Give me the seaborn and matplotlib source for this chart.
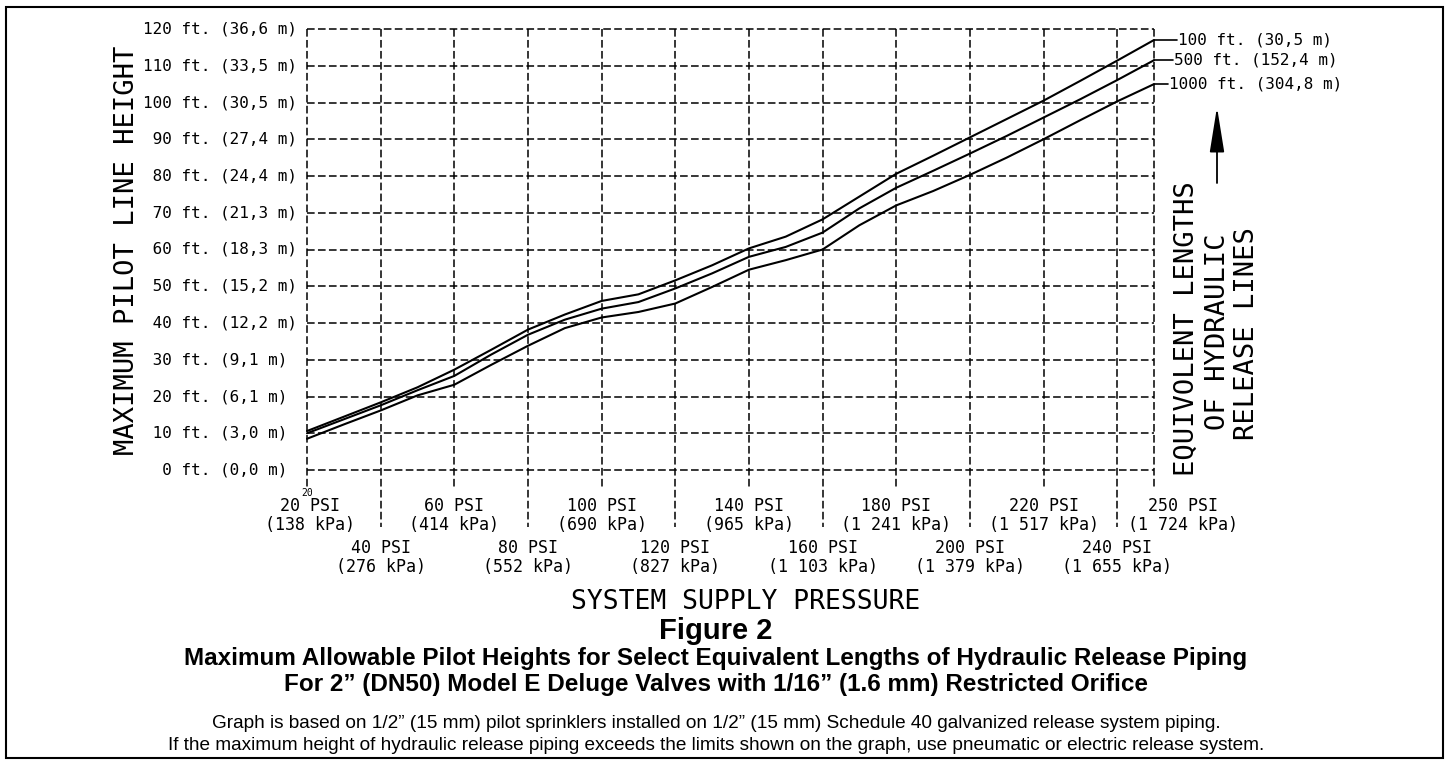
import matplotlib
matplotlib.use("Agg")
import matplotlib.pyplot as plt
import matplotlib.transforms as mtransforms
from matplotlib.patches import Rectangle
import pandas as pd
import seaborn as sns

# === Data ===
psi = [20, 30, 40, 50, 60, 70, 80, 90, 100, 110, 120, 130, 140, 150,
       160, 170, 180, 190, 200, 210, 220, 230, 240, 250]
h_100 = [10.6, 14.5, 18.4, 22.5, 27.3, 32.7, 38.2, 42.3, 46.0, 47.8, 51.6, 55.7,
         60.3, 63.5, 68.2, 74.4, 80.6, 85.5, 90.5, 95.5, 100.5, 105.9, 111.4, 117.0]
h_500 = [10.0, 13.8, 17.6, 21.7, 25.6, 31.4, 36.8, 40.9, 43.9, 45.7, 49.4, 53.5,
         58.0, 60.7, 64.6, 71.2, 76.8, 81.4, 86.1, 90.9, 95.9, 100.9, 106.1, 111.5]
h_1000 = [8.5, 12.4, 16.2, 20.3, 23.2, 28.6, 33.8, 38.6, 41.5, 43.0, 45.3, 49.8,
          54.5, 57.1, 60.0, 66.6, 72.0, 75.9, 80.3, 85.0, 90.0, 95.2, 100.3, 105.0]
line_names = ["100 ft. (30,5 m)", "500 ft. (152,4 m)", "1000 ft. (304,8 m)"]

height_ft = [0, 10, 20, 30, 40, 50, 60, 70, 80, 90, 100, 110, 120]
height_m = ["0,0", "3,0", "6,1", "9,1", "12,2", "15,2", "18,3", "21,3",
            "24,4", "27,4", "30,5", "33,5", "36,6"]

psi_ticks = [20, 40, 60, 80, 100, 120, 140, 160, 180, 200, 220, 240, 250]
kpa_ticks = ["138", "276", "414", "552", "690", "827", "965", "1 103",
             "1 241", "1 379", "1 517", "1 655", "1 724"]

# === Style ===
sns.set_style("white")
plt.rcParams["font.family"] = ["DejaVu Sans Mono", "DejaVu Sans"]
plt.rcParams["text.color"] = "black"
plt.rcParams["lines.scale_dashes"] = False
caption_font = ["Liberation Sans", "DejaVu Sans"]

W, H = 1446, 760
fig = plt.figure(figsize=(W / 100, H / 100), dpi=100)
ax = fig.add_axes([307 / W, 1 - 470 / H, 847 / W, 441 / H])
ax.set_xlim(20, 250)
ax.set_ylim(0, 120)
ax.axis("off")

px_per_ft = 441 / 120
px_per_psi = 847 / 230

# === Dashed grid ===
grid_kw = dict(color="black", lw=1.1, linestyle=(0, (5.5, 2.4)), clip_on=False)
for h in height_ft:
    ax.plot([20, 250], [h, h], **grid_kw)
for p in psi_ticks:
    ext = 57 if (p % 40 == 0) else 17
    ax.plot([p, p], [120, -ext / px_per_ft], **grid_kw)

# === Curves ===
df = pd.DataFrame({
    "psi": psi * 3,
    "height": h_100 + h_500 + h_1000,
    "length": [line_names[0]] * len(psi) + [line_names[1]] * len(psi) + [line_names[2]] * len(psi),
})
sns.lineplot(data=df, x="psi", y="height", hue="length", hue_order=line_names,
             palette=["black"] * 3, linewidth=1.5, legend=False,
             estimator=None, ax=ax)
for ln in ax.lines[-3:]:
    ln.set_clip_on(False)

# leader lines + labels
leader_px = [23, 19, 14]
for name, series, L in zip(line_names, [h_100, h_500, h_1000], leader_px):
    y_end = series[-1]
    x_end = 250 + L / px_per_psi
    ax.plot([250, x_end], [y_end, y_end], color="black", lw=1.2, clip_on=False)
    ax.text(x_end + 0.4, y_end, name, ha="left", va="center", fontsize=11.5)

# === Y labels ===
ytrans = ax.get_yaxis_transform()
for ft, m in zip(height_ft, height_m):
    ax.text(-164 / 847, ft, f"{ft:>3} ft. ({m} m)", ha="left", va="center",
            fontsize=11.5, transform=ytrans)

# === X labels (two staggered rows) ===
xtrans = ax.get_xaxis_transform()
for p, k in zip(psi_ticks, kpa_ticks):
    lower = (p % 40 == 0)
    y1 = 548 if lower else 506
    shift = 29 if p == 250 else (3 if p == 20 else 0)
    tr = mtransforms.offset_copy(xtrans, fig=fig, x=shift, y=0, units="dots")
    ax.text(p, -(y1 - 470) / 441, f"{p} PSI", ha="center", va="center",
            fontsize=12, transform=tr)
    ax.text(p, -(y1 + 19 - 470) / 441, f"({k} kPa)", ha="center", va="center",
            fontsize=12, transform=tr)
ax.text(20, -(493 - 470) / 441, "20", ha="center", va="center", fontsize=7,
        transform=xtrans)

# === Axis titles ===
fig.text(127 / W, 1 - 250 / H, "MAXIMUM PILOT LINE HEIGHT", rotation=90,
         ha="center", va="center", fontsize=19.5)
fig.text(746 / W, 1 - 602 / H, "SYSTEM SUPPLY PRESSURE", ha="center",
         va="center", fontsize=19)

# right side legend title + arrow
for txt, x, yc in [("EQUIVOLENT LENGTHS", 1187, 329), ("OF HYDRAULIC", 1218, 332),
                   ("RELEASE LINES", 1247, 334)]:
    fig.text(x / W, 1 - yc / H, txt, rotation=90, ha="center", va="center",
             fontsize=19.5)
ax.annotate("", xy=(1217 / W, 1 - 107 / H), xytext=(1217 / W, 1 - 183 / H),
            xycoords="figure fraction", textcoords="figure fraction",
            arrowprops=dict(arrowstyle="-|>,head_length=2.8,head_width=0.45",
                            color="black", lw=1.3, mutation_scale=10,
                            shrinkA=0, shrinkB=0))

# === Captions ===
fig.text(716 / W, 1 - 631 / H, "Figure 2", ha="center", va="center",
         fontsize=21, fontweight="bold", family=caption_font)
fig.text(716 / W, 1 - 659 / H,
         "Maximum Allowable Pilot Heights for Select Equivalent Lengths of Hydraulic Release Piping",
         ha="center", va="center", fontsize=17.5, fontweight="bold", family=caption_font)
fig.text(716 / W, 1 - 684 / H,
         "For 2\u201d (DN50) Model E Deluge Valves with 1/16\u201d (1.6 mm) Restricted Orifice",
         ha="center", va="center", fontsize=17.5, fontweight="bold", family=caption_font)
fig.text(716 / W, 1 - 724 / H,
         "Graph is based on 1/2\u201d (15 mm) pilot sprinklers installed on 1/2\u201d (15 mm) Schedule 40 galvanized release system piping.",
         ha="center", va="center", fontsize=13.7, family=caption_font)
fig.text(716 / W, 1 - 745 / H,
         "If the maximum height of hydraulic release piping exceeds the limits shown on the graph, use pneumatic or electric release system.",
         ha="center", va="center", fontsize=13.7, family=caption_font)

# outer frame
fig.patches.append(Rectangle((6 / W, 1 - 758 / H), 1437 / W, 751 / H,
                             transform=fig.transFigure, fill=False,
                             edgecolor="black", lw=1.5))

fig.savefig("out.png", dpi=100)
